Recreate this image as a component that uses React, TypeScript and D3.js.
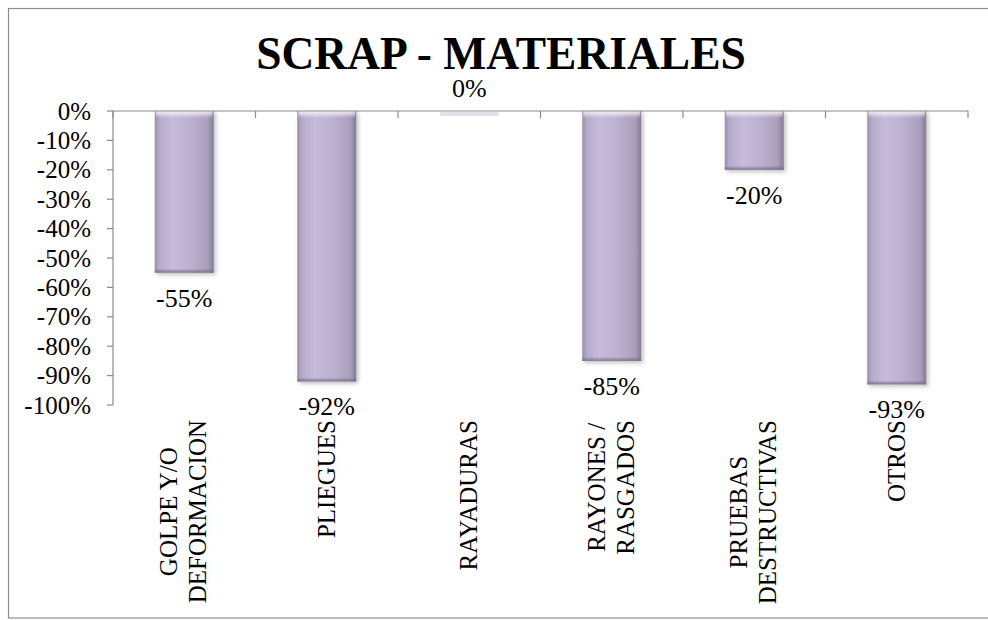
import React, { useLayoutEffect, useRef, useState } from "react";
import * as d3 from "d3";

const categories: string[][] = [
  ["GOLPE Y/O", "DEFORMACION"],
  ["PLIEGUES"],
  ["RAYADURAS"],
  ["RAYONES /", "RASGADOS"],
  ["PRUEBAS", "DESTRUCTIVAS"],
  ["OTROS"],
];
const values: number[] = [-0.55, -0.92, 0, -0.85, -0.2, -0.93];
const yTicks: number[] = [0, -0.1, -0.2, -0.3, -0.4, -0.5, -0.6, -0.7, -0.8, -0.9, -1.0];
const title = "SCRAP - MATERIALES";

const W = 988;
const H = 620;
const FONT = "Liberation Serif";

const x = d3
  .scaleBand<number>()
  .domain(d3.range(values.length))
  .range([113, 968])
  .paddingInner(0.586)
  .paddingOuter(0.293);
const y = d3.scaleLinear().domain([-1, 0]).range([405, 111]);
const pct = (v: number) => `${Math.round(v * 100)}%`;

const barStops: [number, string][] = [
  [0, "#9a8fab"],
  [0.08, "#b6abca"],
  [0.3, "#c5bbda"],
  [0.6, "#bcb1d0"],
  [0.9, "#a99ebb"],
  [1, "#857b94"],
];

export default function App() {
  const refs = useRef<(SVGTextElement | null)[][]>(categories.map((l) => l.map(() => null)));
  const [lens, setLens] = useState<number[][] | null>(null);

  useLayoutEffect(() => {
    const m = refs.current.map((row) => row.map((el) => (el ? el.getComputedTextLength() : 0)));
    setLens(m);
  }, []);

  const axisColor = "#8a8a8a";
  const labelTop = 420;
  const bw = x.bandwidth();
  const catTicks = d3.range(values.length + 1).map((i) => 113 + x.step() * i);

  return (
    <svg
      width={W}
      height={H}
      fontFamily={FONT}
      style={{ position: "absolute", left: 0, top: 0, display: "block" }}
    >
      <defs>
        <linearGradient id="barGrad" x1="0" x2="1" y1="0" y2="0">
          {barStops.map(([o, c]) => (
            <stop key={o} offset={o} stopColor={c} />
          ))}
        </linearGradient>
        <linearGradient id="topGrad" x1="0" x2="0" y1="0" y2="1">
          <stop offset={0} stopColor="#ffffff" stopOpacity={0.85} />
          <stop offset={1} stopColor="#ffffff" stopOpacity={0} />
        </linearGradient>
        <linearGradient id="botGrad" x1="0" x2="0" y1="0" y2="1">
          <stop offset={0} stopColor="#6e647c" stopOpacity={0} />
          <stop offset={1} stopColor="#6e647c" stopOpacity={0.8} />
        </linearGradient>
        <filter id="shadow" x="-20%" y="-10%" width="150%" height="130%">
          <feDropShadow dx={2} dy={2} stdDeviation={2} floodColor="#000" floodOpacity={0.25} />
        </filter>
      </defs>

      <rect x={0} y={0} width={W} height={H} fill="#fff" />
      <rect
        x={8.5}
        y={8.5}
        width={W + 20}
        height={609.5}
        fill="none"
        stroke="#8c8c8c"
        strokeWidth={1.2}
      />

      <text x={501} y={69} textAnchor="middle" fontWeight="bold" fontSize={45.5} fontFamily={FONT} fill="#000">
        {title}
      </text>

      {values.map((v, i) => {
        const x0 = x(i)!;
        const top = y(0);
        const h = Math.max(y(v) - y(0), 3);
        if (v === 0) {
          return <rect key={i} x={x0} y={top + 1} width={bw} height={4} fill="#e4e0ea" rx={2} />;
        }
        return (
          <g key={i}>
            <rect x={x0} y={top} width={bw} height={h} fill="url(#barGrad)" filter="url(#shadow)" />
            <rect x={x0 + 1} y={top} width={bw - 2} height={7} fill="url(#topGrad)" />
            <rect x={x0} y={top + h - 4} width={bw} height={4} fill="url(#botGrad)" />
          </g>
        );
      })}

      <g stroke={axisColor} strokeWidth={1.2} fill="none">
        <line x1={113} x2={113} y1={y(0)} y2={y(-1)} />
        <line x1={113} x2={968} y1={y(0)} y2={y(0)} />
        {yTicks.map((t) => (
          <line key={t} x1={107} x2={113} y1={y(t)} y2={y(t)} />
        ))}
        {catTicks.map((cx, i) => (
          <line key={i} x1={cx} x2={cx} y1={y(0)} y2={y(0) + 7} />
        ))}
      </g>

      {yTicks.map((d) => (
        <text key={d} x={91} y={y(d) + 8.5} textAnchor="end" fontSize={25} fontFamily={FONT} fill="#000">
          {pct(d)}
        </text>
      ))}

      {values.map((v, i) => {
        const cx = x(i)! + bw / 2;
        const yy = v === 0 ? y(0) - 14 : y(v) + 34;
        return (
          <text key={i} x={cx} y={yy} textAnchor="middle" fontSize={26} fontFamily={FONT} fill="#000">
            {pct(v)}
          </text>
        );
      })}

      {categories.map((lines, i) => {
        const cx = x(i)! + bw / 2;
        const L = lens ? Math.max(...lens[i]) : 0;
        const cy = labelTop + L / 2;
        const offs = lines.length === 1 ? [8] : [-7, 22];
        return (
          <g key={i} opacity={lens ? 1 : 0}>
            {lines.map((ln, k) => (
              <text
                key={k}
                ref={(el) => {
                  refs.current[i][k] = el;
                }}
                transform={`translate(${cx + offs[k]},${cy}) rotate(-90)`}
                textAnchor="middle"
                fontSize={25}
                fontFamily={FONT}
                fill="#000"
              >
                {ln}
              </text>
            ))}
          </g>
        );
      })}
    </svg>
  );
}
